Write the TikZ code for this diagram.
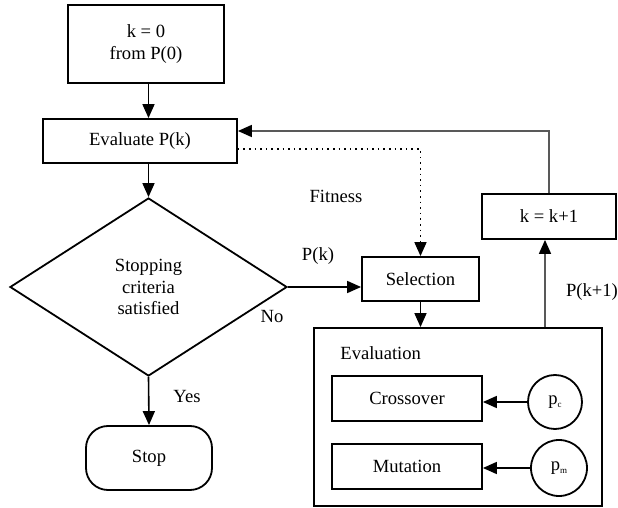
\documentclass[tikz,border=0pt]{standalone}
\usepackage{fontspec}
\setmainfont{Liberation Serif}
\usetikzlibrary{shapes.geometric,arrows.meta,calc}
\begin{document}
\begin{tikzpicture}[x=0.5pt,y=-0.5pt,
  font=\fontsize{9.3}{10.6}\selectfont,
  box/.style={draw,line width=0.9pt,align=center,inner sep=0pt},
  arr/.style={line width=0.8pt,-{Triangle[length=7pt,width=6pt,color=black,fill=black]}},
  garr/.style={arr,draw=black!65},
  lbl/.style={inner sep=0pt}]
\useasboundingbox (0,0) rectangle (618,508);
\node[box,minimum width=78pt,minimum height=39pt] (init) at (146,44) {k = 0\\from P(0)};
\node[box,minimum width=97pt,minimum height=22pt] (eval) at (140,141) {Evaluate P(k)};
\node[box,diamond,minimum width=138.5pt,minimum height=89pt] (dia) at (148.5,287) {Stopping\\criteria\\satisfied};
\node[box,rounded corners=11pt,minimum width=63pt,minimum height=32pt] (stop) at (149,458) {Stop};
\node[box,minimum width=58.5pt,minimum height=22pt] (sel) at (420.5,279) {Selection};
\node[box,minimum width=67pt,minimum height=22.5pt] (kk) at (549,216.5) {k = k+1};
\node[box,minimum width=144pt,minimum height=89pt] (evalbox) at (458,417) {};
\node[lbl,anchor=west] (evlbl) at (340,353) {Evaluation};
\node[box,minimum width=75pt,minimum height=22.5pt] (cross) at (407,398.5) {Crossover};
\node[box,minimum width=75pt,minimum height=22.5pt] (mut) at (407,466.5) {Mutation};
\node[box,circle,minimum size=27pt] (pc) at (555,402) {p\raisebox{-1.5pt}{\fontsize{4.5}{5}\selectfont c}};
\node[box,circle,minimum size=28pt] (pm) at (559,468) {p\raisebox{-1.5pt}{\fontsize{4.5}{5}\selectfont m}};
\node[lbl] (fit) at (336,196) {Fitness};
\node[lbl] (pk) at (318,256) {P(k)};
\node[lbl] (no) at (272,317) {No};
\node[lbl] (yes) at (187,397) {Yes};
\node[lbl] (pk1) at (592,292) {P(k+1)};
\draw[arr] (init.south -| dia.north) -- (eval.north -| dia.north);
\draw[arr] (eval.south -| dia.north) -- (dia.north);
\draw[arr] (dia.south) -- (stop.north);
\draw[arr] (dia.east) -- (dia.east -| sel.west);
\draw[arr,dotted] ([yshift=-4pt]eval.east) -| (sel.north);
\draw[garr] (kk.north) |- ([yshift=5pt]eval.east);
\draw[arr] (sel.south) -- (sel.south |- evalbox.north);
\draw[garr] ([xshift=-2pt]kk.south |- evalbox.north) -- ([xshift=-2pt]kk.south);
\draw[arr] (pc.west) -- (pc.west -| cross.east);
\draw[arr] (pm.west) -- (pm.west -| mut.east);
\end{tikzpicture}
\end{document}
